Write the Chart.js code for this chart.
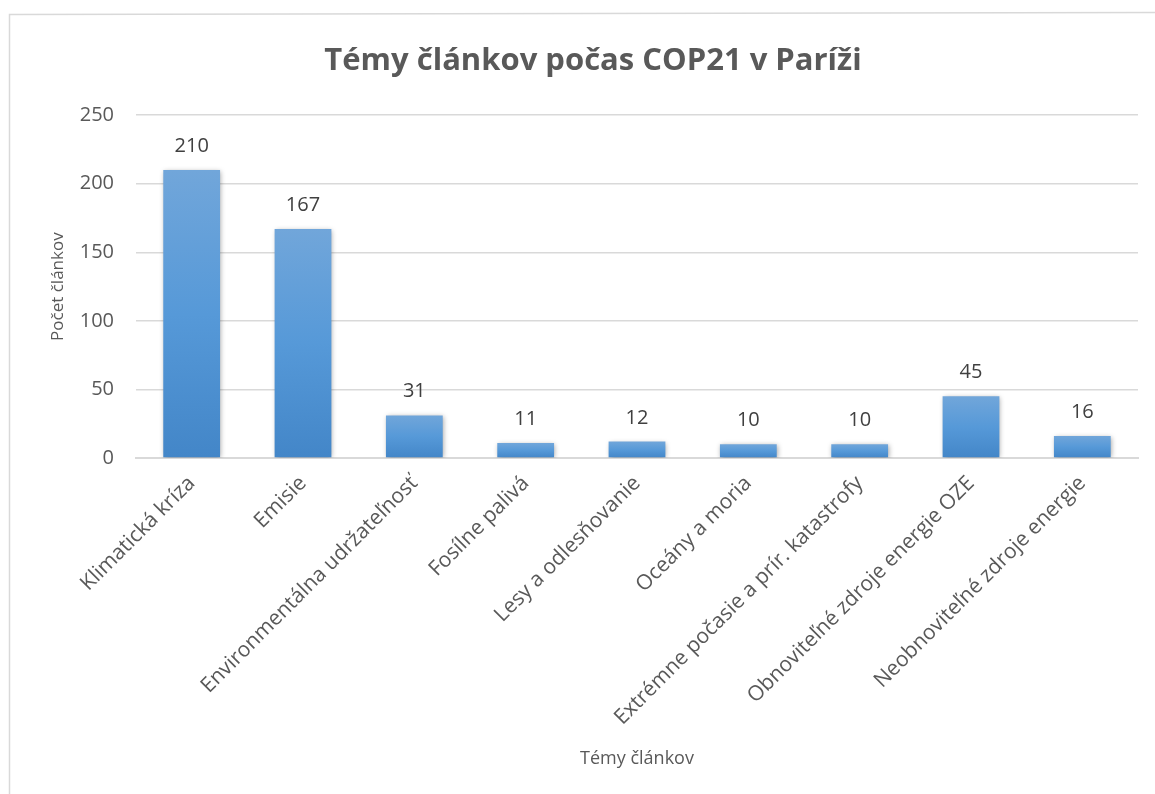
<!DOCTYPE html>
<html>
<head>
<meta charset="utf-8">
<script src="https://cdn.jsdelivr.net/npm/chart.js@4/dist/chart.umd.min.js"></script>
<style>
  html, body { margin: 0; padding: 0; background: #fff; }
  #wrap { width: 1155px; height: 794px; }
</style>
</head>
<body>
<div id="wrap"><canvas id="chart"></canvas></div>
<script>
const categories = [
  'Klimatická kríza',
  'Emisie',
  'Environmentálna udržateľnosť',
  'Fosílne palivá',
  'Lesy a odlesňovanie',
  'Oceány a moria',
  'Extrémne počasie a prír. katastrofy',
  'Obnoviteľné zdroje energie OZE',
  'Neobnoviteľné zdroje energie',
];
const articleCounts = [210, 167, 31, 11, 12, 10, 10, 45, 16];

const FONT = '"Open Sans", "Liberation Sans", sans-serif';
const GREY = '#595959';

// per-bar vertical gradient, lighter on top
function barGradient(c) {
  const chart = c.chart;
  const y = chart.scales && chart.scales.y;
  if (!chart.chartArea || !y || c.raw === undefined) return '#5b9bd5';
  const top = y.getPixelForValue(c.raw);
  const base = y.getPixelForValue(0);
  const g = chart.ctx.createLinearGradient(0, top, 0, base);
  g.addColorStop(0, '#71a6da');
  g.addColorStop(0.5, '#5699d8');
  g.addColorStop(1, '#4386c8');
  return g;
}

// outer frame, bar shadow and value labels
const decorations = {
  id: 'decorations',
  beforeDraw(chart) {
    const ctx = chart.ctx;
    ctx.save();
    ctx.strokeStyle = '#d9d9d9';
    ctx.lineWidth = 1.5;
    ctx.beginPath();
    ctx.moveTo(9.5, chart.height);
    ctx.lineTo(9.5, 14.5);
    ctx.lineTo(chart.width, 12.5);
    ctx.stroke();
    ctx.restore();
  },
  beforeDatasetsDraw(chart) {
    const ctx = chart.ctx;
    ctx.save();
    ctx.shadowColor = 'rgba(0,0,0,0.35)';
    ctx.shadowBlur = 5;
    ctx.shadowOffsetX = 1;
    ctx.shadowOffsetY = 1;
  },
  afterDatasetsDraw(chart) {
    const ctx = chart.ctx;
    ctx.restore();
    const meta = chart.getDatasetMeta(0);
    ctx.save();
    ctx.font = '20px ' + FONT;
    ctx.fillStyle = '#404040';
    ctx.textAlign = 'center';
    ctx.textBaseline = 'alphabetic';
    meta.data.forEach((bar, i) => {
      ctx.fillText(String(articleCounts[i]), bar.x, bar.y - 18);
    });
    ctx.restore();
  },
};

new Chart(document.getElementById('chart'), {
  type: 'bar',
  data: {
    labels: categories,
    datasets: [
      {
        label: 'Počet článkov',
        data: articleCounts,
        backgroundColor: barGradient,
        borderWidth: 0,
        barPercentage: 0.51,
        categoryPercentage: 1,
      },
    ],
  },
  options: {
    responsive: true,
    maintainAspectRatio: false,
    animation: false,
    devicePixelRatio: 1,
    layout: { padding: { left: 48, right: 17, top: 0, bottom: 0 } },
    plugins: {
      legend: { display: false },
      tooltip: { enabled: false },
      title: {
        display: true,
        text: 'Témy článkov počas COP21 v Paríži',
        color: GREY,
        font: { family: FONT, size: 31, weight: 'bold' },
        padding: { top: 43, bottom: 35 },
      },
    },
    scales: {
      y: {
        min: 0,
        max: 250,
        ticks: {
          stepSize: 50,
          color: GREY,
          padding: 22,
          font: { family: FONT, size: 20 },
        },
        grid: { color: '#d9d9d9', lineWidth: 1.5, drawTicks: false },
        border: { display: false },
        title: {
          display: true,
          text: 'Počet článkov',
          color: GREY,
          font: { family: FONT, size: 17 },
          padding: 0,
        },
        afterFit(scale) { scale.width = 88; },
      },
      x: {
        ticks: {
          color: GREY,
          autoSkip: false,
          minRotation: 45,
          maxRotation: 45,
          padding: 13,
          font: { family: FONT, size: 21 },
        },
        grid: { display: false, drawTicks: false },
        border: { color: '#d9d9d9', width: 2 },
        title: {
          display: true,
          text: 'Témy článkov',
          color: GREY,
          font: { family: FONT, size: 18 },
          padding: { top: 0, bottom: 24 },
        },
        afterFit(scale) { scale.height = 336; },
      },
    },
  },
  plugins: [decorations],
});
</script>
</body>
</html>
